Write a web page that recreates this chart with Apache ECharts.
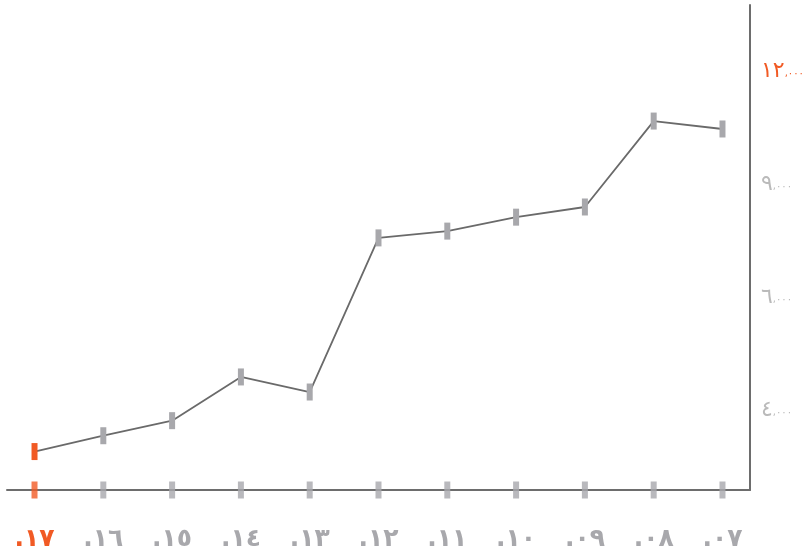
<!DOCTYPE html>
<html>
<head>
<meta charset="utf-8">
<script src="https://cdn.jsdelivr.net/npm/echarts@6/dist/echarts.min.js"></script>
<style>
html,body{margin:0;padding:0;background:#fff;}
#chart{width:806px;height:560px;}
</style>
</head>
<body>
<div id="chart"></div>
<script>
// Data
const years = [2007, 2008, 2009, 2010, 2011, 2012, 2013, 2014, 2015, 2016, 2017];
const values = [10460, 10670, 8390, 8120, 7750, 7570, 3480, 3880, 2720, 2320, 1900];
const xTickLabels = ['.٠٧', '.٠٨', '.٠٩', '.١٠', '.١١', '.١٢', '.١٣', '.١٤', '.١٥', '.١٦', '.١٧'];
const yTickValues = [3000, 6000, 9000, 12000];
const yTickLabels = ['٤,٠٠٠', '٦,٠٠٠', '٩,٠٠٠', '١٢,٠٠٠'];
const highlightYear = 2017;

const ORANGE = '#f15a24';
const GRAY = '#a8a8ac';
const AXIS = '#6d6d6d';
const Y_MIN = 880, Y_MAX = 13750;

const chart = echarts.init(document.getElementById('chart'));
const FONT = '"DejaVu Sans", sans-serif';

function splitLabel(s) {
  const k = s.indexOf(',');
  return { head: s.slice(0, k), tail: s.slice(k) };
}

chart.setOption({
  animation: false,
  grid: { left: 7, right: 56, top: 5, bottom: 70, containLabel: false, outerBoundsMode: 'none' },
  xAxis: {
    type: 'value',
    inverse: true,
    min: 2006.6,
    max: 2017.4,
    axisLine: { show: true, onZero: false, lineStyle: { color: AXIS, width: 2 } },
    axisTick: { show: false },
    splitLine: { show: false },
    axisLabel: {
      customValues: years,
      margin: 37,
      fontFamily: FONT,
      fontSize: 25,
      fontWeight: 'bold',
      hideOverlap: false,
      formatter: function (v) {
        const i = years.indexOf(Math.round(v));
        return i >= 0 ? xTickLabels[i] : '';
      },
      color: function (v) {
        return Math.round(v) === highlightYear ? ORANGE : GRAY;
      }
    }
  },
  yAxis: {
    type: 'value',
    position: 'right',
    min: Y_MIN,
    max: Y_MAX,
    axisLine: { show: true, lineStyle: { color: AXIS, width: 2 } },
    axisTick: { show: false },
    splitLine: { show: false },
    axisLabel: {
      customValues: yTickValues,
      margin: 11,
      fontFamily: FONT,
      hideOverlap: false,
      formatter: function (v) {
        const i = yTickValues.indexOf(Math.round(v));
        if (i < 0) return '';
        const p = splitLabel(yTickLabels[i]);
        const hi = yTickValues[i] === 12000 ? 'H' : 'N';
        return '{d' + hi + '|' + p.head + '}{t' + hi + '|' + p.tail + '}';
      },
      rich: {
        dN: { fontFamily: FONT, fontSize: 22, color: '#bababa' },
        tN: { fontFamily: FONT, fontSize: 10, color: '#bababa', padding: [5, 0, 0, 0] },
        dH: { fontFamily: FONT, fontSize: 22, color: ORANGE },
        tH: { fontFamily: FONT, fontSize: 10, color: ORANGE, padding: [5, 0, 0, 0] }
      }
    }
  },
  series: [
    {
      type: 'line',
      data: years.map((y, i) => ({
        value: [y, values[i]],
        itemStyle: { color: y === highlightYear ? ORANGE : GRAY }
      })),
      symbol: 'rect',
      symbolSize: [6, 17],
      showAllSymbol: true,
      lineStyle: { color: '#6a6a6a', width: 1.8 },
      z: 3
    },
    {
      type: 'scatter',
      data: years.map((y) => ({
        value: [y, Y_MIN],
        itemStyle: { color: y === highlightYear ? ORANGE : GRAY }
      })),
      symbol: 'rect',
      symbolSize: [6, 17],
      z: 4
    }
  ]
});
</script>
</body>
</html>
